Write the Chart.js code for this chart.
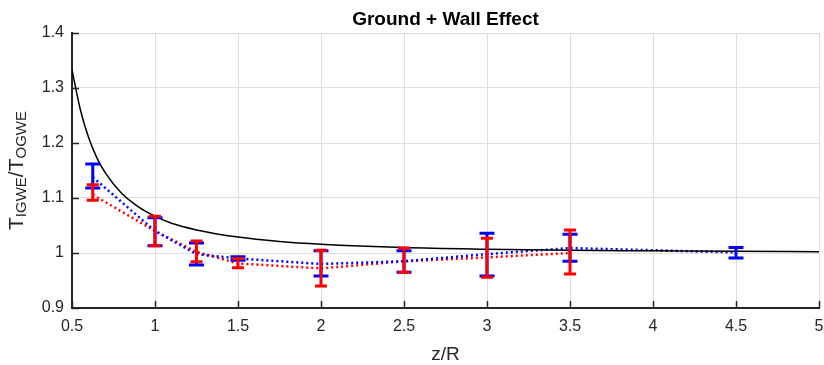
<!DOCTYPE html>
<html>
<head>
<meta charset="utf-8">
<script src="https://cdn.jsdelivr.net/npm/chart.js@4.4.0/dist/chart.umd.min.js"></script>
<style>
html,body{margin:0;padding:0;background:#fff;}
#wrap{width:824px;height:365px;position:relative;}
</style>
</head>
<body>
<div id="wrap"><canvas id="c" width="824" height="365"></canvas></div>
<script>
// ---- data ----
const titleText = "Ground + Wall Effect";
const xLabel = "z/R";
const xTicks = [0.5, 1, 1.5, 2, 2.5, 3, 3.5, 4, 4.5, 5];
const yTicks = [0.9, 1, 1.1, 1.2, 1.3, 1.4];

const theoryX = [0.5, 0.55, 0.6, 0.65, 0.7, 0.8, 0.9, 1, 1.1, 1.25, 1.5, 1.75, 2, 2.5, 3, 3.5, 4, 4.5, 5];
const theoryY = [1.333, 1.261, 1.210, 1.173, 1.146, 1.108, 1.084, 1.067, 1.054, 1.042, 1.029, 1.021, 1.016, 1.010, 1.007, 1.005, 1.004, 1.003, 1.0025];

const blueX = [0.625, 1, 1.25, 1.5, 2, 2.5, 3, 3.5, 4.5];
const blueY = [1.138, 1.040, 0.998, 0.990, 0.980, 0.985, 0.998, 1.009, 1.001];
const blueLo = [1.118, 1.013, 0.978, 0.987, 0.958, 0.965, 0.958, 0.985, 0.991];
const blueHi = [1.162, 1.064, 1.018, 0.993, 1.004, 1.004, 1.036, 1.034, 1.010];

const redX = [0.625, 1, 1.25, 1.5, 2, 2.5, 3, 3.5];
const redY = [1.106, 1.040, 1.002, 0.981, 0.972, 0.985, 0.992, 1.000];
const redLo = [1.096, 1.013, 0.984, 0.973, 0.940, 0.965, 0.956, 0.962];
const redHi = [1.124, 1.067, 1.022, 0.990, 1.005, 1.009, 1.027, 1.042];

const FONT = "'Liberation Sans', Arial, Helvetica, sans-serif";
const pts = (xs, ys) => xs.map((x, i) => ({x: x, y: ys[i]}));

const errBars = [
  {x: blueX, lo: blueLo, hi: blueHi, color: '#0000ff', cap: 15},
  {x: redX, lo: redLo, hi: redHi, color: '#ff0000', cap: 12}
];

const deco = {
  id: 'deco',
  afterDatasetsDraw(chart) {
    const ctx = chart.ctx, xs = chart.scales.x, ys = chart.scales.y;
    ctx.save();
    errBars.forEach(s => {
      ctx.strokeStyle = s.color;
      ctx.lineWidth = 3;
      ctx.lineCap = 'butt';
      s.x.forEach((xv, i) => {
        const px = xs.getPixelForValue(xv);
        const p1 = ys.getPixelForValue(s.lo[i]);
        const p2 = ys.getPixelForValue(s.hi[i]);
        ctx.beginPath();
        ctx.moveTo(px, p1); ctx.lineTo(px, p2);
        ctx.moveTo(px - s.cap / 2, p1); ctx.lineTo(px + s.cap / 2, p1);
        ctx.moveTo(px - s.cap / 2, p2); ctx.lineTo(px + s.cap / 2, p2);
        ctx.stroke();
      });
    });
    ctx.restore();
  },
  afterDraw(chart) {
    const ctx = chart.ctx, xs = chart.scales.x, ys = chart.scales.y, a = chart.chartArea;
    ctx.save();
    // inward tick marks
    ctx.strokeStyle = '#262626';
    ctx.lineWidth = 1.5;
    ctx.beginPath();
    xTicks.forEach(v => {
      const px = Math.round(xs.getPixelForValue(v)) + 0.5;
      ctx.moveTo(px, a.bottom); ctx.lineTo(px, a.bottom - 7);
    });
    yTicks.forEach(v => {
      const py = Math.round(ys.getPixelForValue(v)) + 0.5;
      ctx.moveTo(a.left, py); ctx.lineTo(a.left + 7, py);
    });
    ctx.stroke();
    // title
    ctx.fillStyle = '#000';
    ctx.font = "bold 19px " + FONT;
    ctx.textAlign = 'center';
    ctx.textBaseline = 'alphabetic';
    ctx.fillText(titleText, (a.left + a.right) / 2, 25);
    // x label
    ctx.fillStyle = '#262626';
    ctx.font = "19px " + FONT;
    ctx.fillText(xLabel, (a.left + a.right) / 2, 360);
    // y label with subscripts
    const parts = [['T', 21, 0], ['IGWE', 15, 3], ['/T', 21, 0], ['OGWE', 15, 3]];
    let total = 0;
    parts.forEach(p => { ctx.font = p[1] + "px " + FONT; p.push(ctx.measureText(p[0]).width); total += p[3]; });
    ctx.translate(23, (a.top + a.bottom) / 2);
    ctx.rotate(-Math.PI / 2);
    ctx.textAlign = 'left';
    let cx = -total / 2;
    parts.forEach(p => {
      ctx.font = p[1] + "px " + FONT;
      ctx.fillText(p[0], cx, p[2]);
      cx += p[3];
    });
    ctx.restore();
  }
};

new Chart(document.getElementById('c'), {
  type: 'scatter',
  data: {
    datasets: [
      {data: pts(theoryX, theoryY), showLine: true, borderColor: '#000', borderWidth: 1.5,
       pointRadius: 0, cubicInterpolationMode: 'monotone', fill: false},
      {data: pts(blueX, blueY), showLine: true, borderColor: '#0000ff', borderWidth: 2.5,
       borderDash: [2, 3], pointRadius: 0, fill: false},
      {data: pts(redX, redY), showLine: true, borderColor: '#ff0000', borderWidth: 2.5,
       borderDash: [2, 3], pointRadius: 0, fill: false}
    ]
  },
  options: {
    responsive: false,
    animation: false,
    layout: {padding: {top: 33, right: 5, left: 0, bottom: 0}},
    plugins: {legend: {display: false}, tooltip: {enabled: false}, title: {display: false}},
    scales: {
      x: {
        type: 'linear', min: 0.5, max: 5,
        afterFit(s) { s.height = 57; s.paddingLeft = 0; s.paddingRight = 0; },
        afterBuildTicks(s) { s.ticks = xTicks.map(v => ({value: v})); },
        grid: {color: '#dfdfdf', lineWidth: 1, drawTicks: false},
        border: {color: '#262626', width: 2},
        ticks: {color: '#262626', font: {family: FONT, size: 16}, padding: 9, maxRotation: 0,
                callback: v => String(v)}
      },
      y: {
        type: 'linear', min: 0.9, max: 1.4,
        afterFit(s) { s.width = 72; s.paddingTop = 0; s.paddingBottom = 0; },
        afterBuildTicks(s) { s.ticks = yTicks.map(v => ({value: v})); },
        grid: {color: '#dfdfdf', lineWidth: 1, drawTicks: false},
        border: {color: '#262626', width: 2},
        ticks: {color: '#262626', font: {family: FONT, size: 16}, padding: 8,
                callback: v => String(v)}
      }
    }
  },
  plugins: [deco]
});
</script>
</body>
</html>
